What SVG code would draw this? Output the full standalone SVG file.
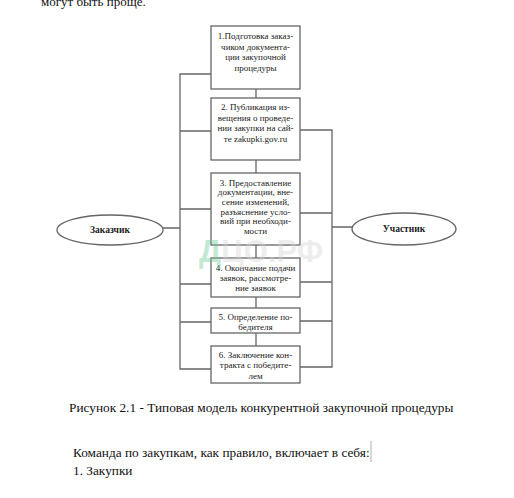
<svg xmlns="http://www.w3.org/2000/svg" width="514" height="498" viewBox="0 0 514 498">
<style>
.bx{fill:#fff;stroke:#666;stroke-width:1.3}
.ln{stroke:#666;stroke-width:1.3;fill:none}
text{font-family:"Liberation Serif","DejaVu Serif",serif}
.t{font-size:9px;fill:#222;text-anchor:middle}
.e{font-size:9.5px;font-weight:bold;fill:#222;text-anchor:middle}
.p{font-size:13.3px;fill:#111}
</style>
<rect width="514" height="498" fill="#fff"/>
<text x="41" y="6" style="font-size:13px;fill:#111">могут быть проще.</text>

<g id="connectors">
<path class="ln" d="M256,89V98M256,160V173M256,245V258M256,297V308M256,333V346"/>
<path class="ln" d="M211,74H180V369H211M180,131H211M180,209H211M180,284H211M180,322H211"/>
<path class="ln" d="M300,130H332V367H300M300,213H332M300,282H332M300,321H332"/>
<path class="ln" d="M163,228H180M332,227H352"/>
</g>

<g id="n1"><rect class="bx" x="211" y="26" width="89" height="63"/>
<text class="t" x="255.5" y="39">1.Подготовка заказ-</text>
<text class="t" x="255.5" y="49.5">чиком документа-</text>
<text class="t" x="255.5" y="60">ции закупочной</text>
<text class="t" x="255.5" y="70.5">процедуры</text></g>

<g id="n2"><rect class="bx" x="211" y="98" width="89" height="62"/>
<text class="t" x="255.5" y="110">2. Публикация из-</text>
<text class="t" x="255.5" y="120.5">вещения о проведе-</text>
<text class="t" x="255.5" y="131">нии закупки на сай-</text>
<text class="t" x="255.5" y="141.5">те zakupki.gov.ru</text></g>

<g id="n3"><rect class="bx" x="211" y="173" width="89" height="72"/>
<text class="t" x="255.5" y="185.5">3. Предоставление</text>
<text class="t" x="255.5" y="195.2">документации, вне-</text>
<text class="t" x="255.5" y="204.9">сение изменений,</text>
<text class="t" x="255.5" y="214.6">разъяснение усло-</text>
<text class="t" x="255.5" y="224.3">вий при необходи-</text>
<text class="t" x="255.5" y="234">мости</text></g>

<g id="n4"><rect class="bx" x="211" y="258" width="89" height="39"/>
<text class="t" x="255.5" y="271.3">4. Окончание подачи</text>
<text class="t" x="255.5" y="281.3">заявок, рассмотре-</text>
<text class="t" x="255.5" y="291.3">ние заявок</text></g>

<g id="n5"><rect class="bx" x="211" y="308" width="89" height="25"/>
<text class="t" x="255.5" y="319.5">5. Определение по-</text>
<text class="t" x="255.5" y="329.5">бедителя</text></g>

<g id="n6"><rect class="bx" x="211" y="346" width="89" height="37"/>
<text class="t" x="255.5" y="358">6. Заключение кон-</text>
<text class="t" x="255.5" y="368">тракта с победите-</text>
<text class="t" x="255.5" y="378.5">лем</text></g>

<g id="customer"><ellipse class="bx" cx="110" cy="230" rx="53" ry="15"/>
<text class="e" x="110" y="233">Заказчик</text></g>

<g id="participant"><ellipse class="bx" cx="404" cy="229" rx="52" ry="16"/>
<text class="e" x="404" y="232">Участник</text></g>

<g id="watermark" opacity="0.4" font-weight="bold" font-size="31">
<text x="199" y="262" fill="#6cc894" style="font-family:'Liberation Sans',Arial,sans-serif">Д<tspan fill="#d4d4d4">ЦО.РФ</tspan></text>
</g>

<text class="p" x="69" y="411.5">Рисунок 2.1 - Типовая модель конкурентной закупочной процедуры</text>
<text class="p" x="73" y="456.5">Команда по закупкам, как правило, включает в себя:</text>
<line x1="371" y1="441" x2="371" y2="462" stroke="#999" stroke-width="0.8"/>
<text class="p" x="73" y="474.5">1. Закупки</text>
</svg>
